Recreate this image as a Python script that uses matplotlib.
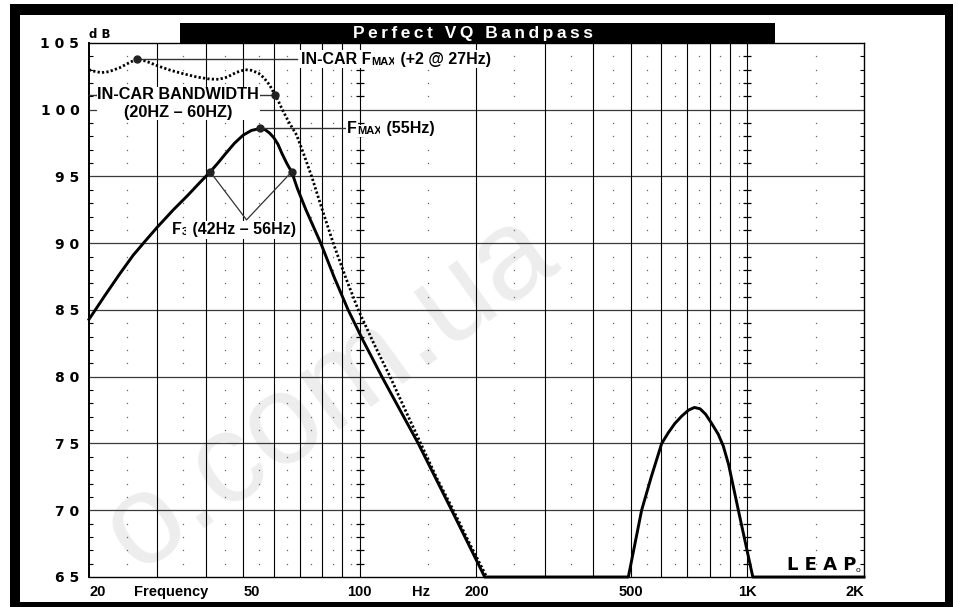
import matplotlib
matplotlib.use('Agg')
import matplotlib.pyplot as plt
from matplotlib.patches import Rectangle
from matplotlib.ticker import MultipleLocator, NullLocator
import numpy as np

W, H = 958, 607

# bandpass response (solid)
bp_freq = [20, 22, 24, 26, 28, 30, 33, 36, 38.5, 41.1, 43, 45, 47.5, 50, 52.5, 55.3, 57,
           58.5, 60, 61.5, 63, 65, 66.7, 69, 72.6, 76, 79.3, 86, 93.3, 102, 114, 141.5,
           172.6, 210, 493, 533.5, 565, 601, 625, 650, 677, 705, 730, 755, 780, 809, 841,
           867, 895, 948, 1033, 2000]
bp_db = [84.3, 86.1, 87.7, 89.1, 90.2, 91.2, 92.5, 93.6, 94.5, 95.35, 96.0, 96.7, 97.5,
         98.1, 98.45, 98.6, 98.5, 98.25, 97.9, 97.4, 96.7, 95.9, 95.35, 94.1, 92.5, 91.2,
         90.0, 87.4, 85.0, 82.7, 80.0, 75.0, 70.0, 65.0, 65.0, 70.0, 72.5, 75.0, 75.8,
         76.5, 77.05, 77.5, 77.7, 77.6, 77.2, 76.5, 75.7, 74.8, 73.4, 70.0, 65.0, 65.0]

# in-car response (dotted)
car_freq = [20, 20.5, 21.5, 22.5, 24, 25.5, 26.6, 28, 30, 32.5, 35, 38, 41, 43.3, 45.5, 48,
            50.6, 52.5, 54.7, 56.5, 58.5, 60.4, 61.5, 63, 65.5, 68.7, 72, 75.1, 80, 85.4,
            92, 99.1, 109, 119.7, 131, 143.6, 158, 174.3, 192, 212.5]
car_db = [103.0, 102.9, 102.78, 102.85, 103.15, 103.55, 103.8, 103.65, 103.3, 102.95, 102.7,
          102.45, 102.3, 102.28, 102.45, 102.8, 103.0, 102.95, 102.75, 102.4, 101.85, 101.1,
          100.7, 100.05, 99.1, 98.1, 96.5, 95.0, 92.5, 90.0, 87.4, 85.0, 82.4, 80.0, 77.5,
          75.0, 72.4, 70.0, 67.5, 65.0]

# marked points
incar_fmax = (26.6, 103.8)
incar_bw = (60.4, 101.1)
fmax = (55.3, 98.6)
f3_low = (41.1, 95.35)
f3_high = (66.7, 95.35)
f3_vertex = (51.0, 91.75)

db_ticks = list(range(65, 106, 5))
freq_ticks = [20, 32.6, 50, 100, 144, 200, 500, 1000, 2000]
freq_labels = ['20', 'Frequency', '50', '100', 'Hz', '200', '500', '1K', '2K']

plt.rcParams['font.family'] = ['Liberation Sans', 'DejaVu Sans']
plt.rcParams['font.weight'] = 'bold'

fig = plt.figure(figsize=(W / 100, H / 100), dpi=100)
fig.patch.set_facecolor('white')


def block(x0, y0, x1, y1, color='black', z=5):
    fig.add_artist(Rectangle((x0 / W, 1 - y1 / H), (x1 - x0) / W, (y1 - y0) / H,
                             transform=fig.transFigure, fc=color, ec='none', zorder=z))


# frame and title bar
block(10, 4, 953, 15)
block(10, 4, 20, 607)
block(945, 4, 953, 607)
block(10, 602, 953, 607)
block(180, 23, 775, 43)
fig.text(473 / W, 1 - 38 / H, '\u2009'.join('Perfect VQ Bandpass'), color='white',
         fontsize=12.5, ha='center', va='baseline', zorder=6)
fig.text(89 / W, 1 - 34 / H, 'd B', fontsize=8.5, family='DejaVu Sans', va='center')

# watermark
fig.text(330 / W, 1 - 392 / H, 'o.com.ua', fontsize=92, fontweight='normal',
         color='#ededed', rotation=36, ha='center', va='center', zorder=-1)

ax = fig.add_axes([89 / W, 1 - 577 / H, 775 / W, 534 / H])
ax.set_facecolor('none')
ax.set_xscale('log')
ax.set_xlim(20, 2000)
ax.set_ylim(65, 105)

# grid
for d in range(70, 105, 5):
    ax.axhline(d, color='#3a3a3a', lw=0.9, zorder=1)
for f in list(range(30, 101, 10)) + list(range(200, 1001, 100)):
    ax.axvline(f, color='black', lw=0.8, zorder=1)
mids = list(range(25, 100, 10)) + [150] + list(range(250, 1000, 100)) + [1500]
minor_db = [d for d in range(66, 105) if d % 5]
gx, gy = np.meshgrid(mids, minor_db)
ax.plot(gx.ravel(), gy.ravel(), ls='none', marker='s', ms=0.9, mew=0, color='#666',
        zorder=1)
for f in (100, 1000):
    ax.plot([f] * len(minor_db), minor_db, ls='none', marker='_', ms=6, mew=0.9,
            color='black', zorder=1)

# curves
ax.plot(car_freq, car_db, color='black', lw=2.0, ls=(0, (0.8, 0.8)), zorder=3, clip_on=False)
ax.plot(bp_freq, bp_db, color='black', lw=2.1, zorder=4, clip_on=False,
        solid_joinstyle='round')

# annotations
lc = '#333333'
ax.plot([incar_fmax[0], 69], [incar_fmax[1]] * 2, color=lc, lw=1, zorder=5)
ax.plot([20, incar_bw[0]], [incar_bw[1]] * 2, color=lc, lw=1, zorder=5, clip_on=False)
ax.plot([fmax[0], 92], [fmax[1]] * 2, color=lc, lw=1, zorder=5)
ax.plot([f3_low[0], f3_vertex[0], f3_high[0]], [f3_low[1], f3_vertex[1], f3_high[1]],
        color=lc, lw=0.9, zorder=5)
pts = [incar_fmax, incar_bw, fmax, f3_low, f3_high]
ax.plot([p[0] for p in pts], [p[1] for p in pts], ls='none', marker='o', ms=5,
        color='#222', zorder=7)

box = dict(fc='white', ec='none', pad=1)


def rich(x, y, parts):
    t = ax.text(x, y, parts[0][0], fontsize=parts[0][1], ha='left', va='center',
                bbox=box, zorder=6)
    for s, size in parts[1:]:
        t = ax.annotate(s, xy=(1, 0), xycoords=t, fontsize=size, ha='left',
                        va='bottom', bbox=box, zorder=6)


rich(70.3, 103.8, [('IN-CAR F', 11.5), ('MAX', 8), (' (+2 @ 27Hz)', 11.5)])
rich(92.7, 98.6, [('F', 11.5), ('MAX', 8), (' (55Hz)', 11.5)])
rich(32.7, 91.0, [('F', 11.5), ('3', 8), (' (42Hz \u2013 56Hz)', 11.5)])
ax.text(33.95, 100.47, 'IN-CAR BANDWIDTH\n(20HZ \u2013 60HZ)', fontsize=11.7,
        ha='center', va='center', multialignment='center', linespacing=1.2,
        bbox=dict(fc='white', ec='none', pad=0.5), zorder=6)

# logo
fig.text(822 / W, 1 - 565 / H, 'L E A P', fontsize=13, family='DejaVu Sans',
         ha='center', va='center', zorder=6)
fig.text(858 / W, 1 - 571 / H, 'o', fontsize=6, fontweight='normal', ha='center',
         va='center', zorder=6)

# axes, ticks
for s in ax.spines.values():
    s.set_linewidth(1.0)
    s.set_zorder(2)
ax.spines['left'].set_linewidth(1.4)

ax.set_yticks(db_ticks)
ax.set_yticklabels([' '.join(str(d)) for d in db_ticks])
ax.yaxis.set_minor_locator(MultipleLocator(1))
ax.tick_params(axis='y', which='major', length=0, pad=7, labelsize=10)
ax.tick_params(axis='y', which='minor', direction='in', length=3, width=0.8,
               left=True, right=True)
for lab in ax.get_yticklabels():
    lab.set_fontfamily('DejaVu Sans')

ax.set_xticks(freq_ticks)
ax.set_xticklabels(freq_labels)
ax.xaxis.set_minor_locator(NullLocator())
ax.tick_params(axis='x', length=0, pad=6, labelsize=10.5)
for lab in ax.get_xticklabels():
    if lab.get_text() in ('20', '50'):
        lab.set_ha('left')
    elif lab.get_text() == '2K':
        lab.set_ha('right')

fig.savefig('out.png', dpi=100)
